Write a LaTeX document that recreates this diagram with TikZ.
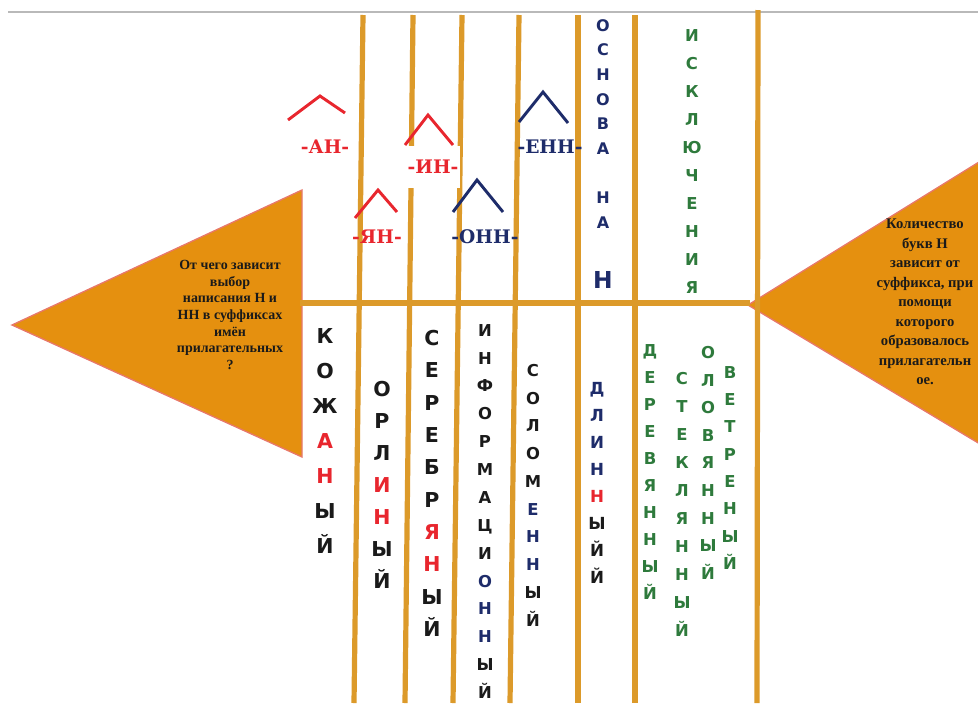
\documentclass[tikz,border=0pt]{standalone}
\usepackage{fontspec}
\setmainfont{Liberation Serif}
\newfontfamily\letterfont{DejaVu Sans}
\newfontfamily\suffont{DejaVu Serif}
\usepackage{tikz}

\definecolor{bonecol}{HTML}{DC9A2A}
\definecolor{fishcol}{HTML}{E5900F}
\definecolor{rimcol}{HTML}{E8786A}
\definecolor{sufred}{HTML}{E8262E}
\definecolor{sufblue}{HTML}{1E2C6A}
\definecolor{wordgreen}{HTML}{2E7A3C}
\definecolor{ink}{HTML}{1A1A1A}

\newcommand{\rd}[1]{{\color{sufred}#1}}
\newcommand{\bl}[1]{{\color{sufblue}#1}}
\newcommand{\colsize}[2]{\letterfont\bfseries\fontsize{#1}{#2}\selectfont}

\begin{document}
\begin{tikzpicture}[x=0.75pt,y=-0.75pt,
    bone/.style={draw=bonecol,line width=3.9pt},
    fish/.style={draw=rimcol,fill=fishcol,line width=1pt},
    hat/.style={line width=2.2pt},
    suf/.style={inner sep=1pt,font=\suffont\bfseries\fontsize{14}{16}\selectfont},
    col/.style={anchor=north,inner sep=0pt,align=center,text=ink},
    question/.style={align=center,inner sep=0pt,text=ink}]

    \clip (0,0) rectangle (978,711);
    \draw[gray!55,line width=2pt] (8,12) -- (978,12);

    \draw[fish] (12,325) -- (302,190) -- (302,457) -- cycle;
    \draw[fish] (748,305) -- (1000,149) -- (1000,456) -- cycle;

    \draw[bone] (300,303) -- (750,303);
    \draw[bone] (363,15) -- (354,703);
    \draw[bone] (413,15) -- (405,703);
    \draw[bone] (462,15) -- (453,703);
    \draw[bone] (519,15) -- (510,703);
    \draw[bone] (578,15) -- (578,703);
    \draw[bone] (635,15) -- (635,703);
    \draw[bone] (758,10) -- (757,703);

    \node[question,font=\bfseries\fontsize{10.5}{12.5}\selectfont] (why) at (230,315)
        {От чего зависит\\выбор\\написания Н и\\НН в суффиксах\\имён\\прилагательных\\?};
    \node[question,font=\bfseries\fontsize{11}{14.6}\selectfont] (answer) at (925,302)
        {Количество\\букв Н\\зависит от\\суффикса, при\\помощи\\которого\\образовалось\\прилагательн\\ое.};

    \draw[hat,sufred] (288,120) -- (320,96) -- (345,113);
    \draw[hat,sufred] (405,145) -- (428,115) -- (453,145);
    \draw[hat,sufred] (355,218) -- (378,190) -- (397,212);
    \draw[hat,sufblue] (453,212) -- (477,180) -- (503,212);
    \draw[hat,sufblue] (519,122) -- (543,92) -- (568,123);

    \node[suf,text=sufred] (an) at (325,147) {-АН-};
    \node[suf,text=sufred,fill=white,minimum height=32pt] (in) at (433,167) {-ИН-};
    \node[suf,text=sufred] (yan) at (377,237) {-ЯН-};
    \node[suf,text=sufblue] (onn) at (485,237) {-ОНН-};
    \node[suf,text=sufblue] (enn) at (550,147) {-ЕНН-};

    \node[col,text=sufblue,font=\colsize{12}{18.5}] (osnova) at (603,19)
        {О\\С\\Н\\О\\В\\А\\[18.5pt]Н\\А};
    \node[text=sufblue,inner sep=0pt,font=\colsize{17.5}{20}] (osnovaN) at (603,280) {Н};
    \node[col,text=wordgreen,font=\colsize{12.3}{21}] (iskl) at (692,29)
        {И\\С\\К\\Л\\Ю\\Ч\\Е\\Н\\И\\Я};

    \node[col,font=\colsize{15.4}{26.25}] (kozh) at (325,328)
        {К\\О\\Ж\\\rd{А}\\\rd{Н}\\Ы\\Й};
    \node[col,font=\colsize{15.4}{24}] (orlin) at (382,381)
        {О\\Р\\Л\\\rd{И}\\\rd{Н}\\Ы\\Й};
    \node[col,font=\colsize{15.4}{24.25}] (serebr) at (432,330)
        {С\\Е\\Р\\Е\\Б\\Р\\\rd{Я}\\\rd{Н}\\Ы\\Й};
    \node[col,font=\colsize{12.3}{20.9}] (inform) at (485,324)
        {И\\Н\\Ф\\О\\Р\\М\\А\\Ц\\И\\\bl{О}\\\bl{Н}\\\bl{Н}\\Ы\\Й};
    \node[col,font=\colsize{12.3}{20.8}] (solom) at (533,364)
        {С\\О\\Л\\О\\М\\\bl{Е}\\\bl{Н}\\\bl{Н}\\Ы\\Й};
    \node[col,font=\colsize{12.5}{20.25}] (dlin) at (597,382)
        {\bl{Д}\\\bl{Л}\\\bl{И}\\\bl{Н}\\\rd{Н}\\Ы\\Й\\Й};

    \node[col,text=wordgreen,font=\colsize{12.3}{20.25}] (derev) at (650,344)
        {Д\\Е\\Р\\Е\\В\\Я\\Н\\Н\\Ы\\Й};
    \node[col,text=wordgreen,font=\colsize{12.3}{21}] (stekl) at (682,372)
        {С\\Т\\Е\\К\\Л\\Я\\Н\\Н\\Ы\\Й};
    \node[col,text=wordgreen,font=\colsize{12.3}{20.7}] (olov) at (708,346)
        {О\\Л\\О\\В\\Я\\Н\\Н\\Ы\\Й};
    \node[col,text=wordgreen,font=\colsize{12.3}{20.5}] (vetr) at (730,366)
        {В\\Е\\Т\\Р\\Е\\Н\\Ы\\Й};
\end{tikzpicture}
\end{document}
